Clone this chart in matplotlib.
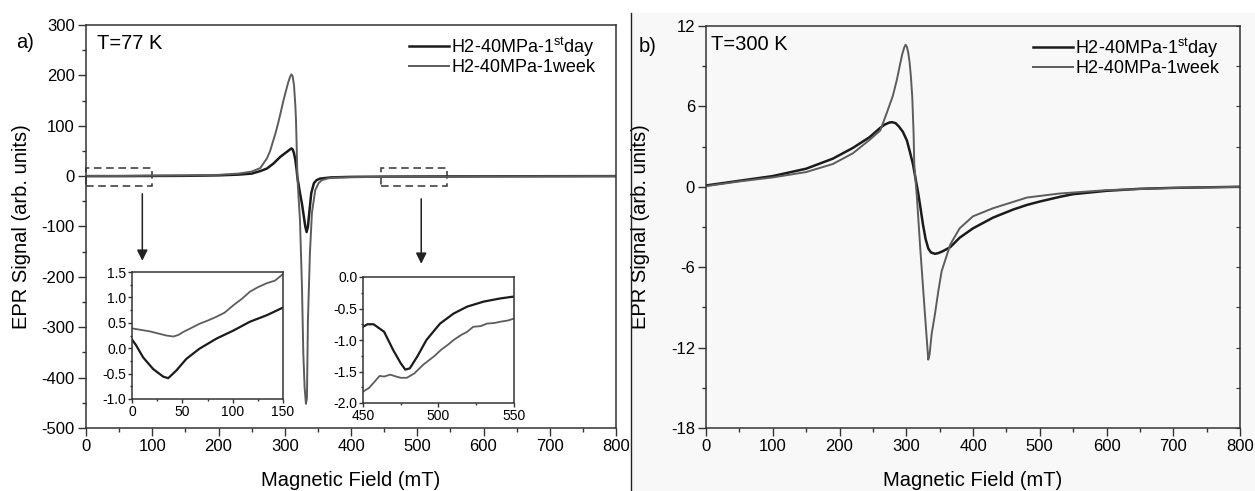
import matplotlib
matplotlib.use('Agg')
import matplotlib.pyplot as plt
from matplotlib.lines import Line2D
from matplotlib.patches import Rectangle
from matplotlib.ticker import MultipleLocator

plt.rcParams['font.family'] = ['Liberation Sans', 'DejaVu Sans']
plt.rcParams['mathtext.fontset'] = 'custom'
plt.rcParams['mathtext.rm'] = 'Liberation Sans'
plt.rcParams['axes.unicode_minus'] = False

# ---- data ----
labels = ['H2-40MPa-1$^{\\rm st}$day', 'H2-40MPa-1week']

# (a) T = 77 K
day_77_x = [0, 50, 100, 150, 200, 230, 250, 263, 273, 283, 293, 300, 305, 308, 310, 312, 314,
            316, 318, 319, 321, 323, 326, 328, 331, 333, 335, 337, 340, 344, 348, 353, 370,
            400, 450, 500, 600, 700, 800]
day_77_y = [0, 0, 0.3, 0.6, 1.5, 3, 5, 10, 15, 25, 38, 45, 50, 53, 55, 53, 45,
            32, 12, -2, -18, -34, -55, -73, -100, -111, -100, -73, -34, -14, -8, -5, -2.5,
            -1.5, -1, -0.8, -0.4, -0.2, 0]
week_77_x = [0, 50, 100, 150, 200, 230, 250, 263, 273, 278, 282, 286, 290, 294, 298, 302, 305,
             308, 310, 312, 314, 316, 317, 318, 319, 321, 323, 326, 328, 330, 332, 333.5, 335,
             338, 341, 346, 351, 356, 365, 373, 400, 450, 500, 600, 700, 800]
week_77_y = [0.4, 0.3, 1, 1.4, 2.5, 5, 9, 16, 35, 50, 68, 85, 105, 127, 150, 170, 185,
             197, 202, 198, 180, 140, 110, 60, 0, -45, -88, -220, -352, -420, -452, -440, -285,
             -153, -73, -28, -14, -8, -4.5, -3, -2, -1.5, -1.3, -0.6, -0.3, 0]

# insets of (a)
ins1_day_x = [0, 4, 11, 21, 31, 36, 44, 54, 67, 84, 101, 117, 134, 150]
ins1_day_y = [0.17, 0.06, -0.18, -0.41, -0.56, -0.59, -0.44, -0.21, -0.01, 0.19, 0.35, 0.52, 0.65, 0.80]
ins1_week_x = [0, 9, 18, 26, 34, 41, 46, 51, 59, 67, 76, 84, 92, 101, 109, 117, 125, 134, 142, 150]
ins1_week_y = [0.39, 0.36, 0.33, 0.29, 0.25, 0.23, 0.26, 0.32, 0.40, 0.48, 0.55, 0.62, 0.70, 0.85, 0.97,
               1.11, 1.20, 1.28, 1.33, 1.46]
ins2_day_x = [450, 453, 457, 464, 470, 475, 478, 481, 486, 492, 501, 510, 519, 530, 541, 550]
ins2_day_y = [-0.79, -0.75, -0.75, -0.87, -1.16, -1.37, -1.47, -1.45, -1.26, -1.00, -0.74, -0.58,
              -0.47, -0.39, -0.34, -0.31]
ins2_week_x = [450, 454, 457, 461, 464, 468, 472, 475, 479, 484, 490, 497, 502, 506, 510, 515,
               519, 523, 528, 532, 537, 541, 546, 550]
ins2_week_y = [-1.82, -1.76, -1.68, -1.57, -1.58, -1.55, -1.58, -1.60, -1.60, -1.53, -1.39, -1.26,
               -1.15, -1.08, -1.00, -0.92, -0.87, -0.79, -0.78, -0.74, -0.73, -0.71, -0.69, -0.66]

# (b) T = 300 K
day_300_x = [0, 50, 100, 150, 190, 220, 245, 261, 268, 275, 279, 284, 289, 295, 301, 305, 310,
             314, 318, 322, 325, 329, 333, 337, 343, 348, 355, 366, 380, 400, 430, 460, 481,
             500, 530, 550, 600, 650, 700, 800]
day_300_y = [0.1, 0.45, 0.8, 1.35, 2.1, 2.9, 3.7, 4.4, 4.65, 4.8, 4.82, 4.75, 4.5, 4.1, 3.45, 2.7, 1.7,
             0.6, -0.5, -1.8, -2.8, -3.9, -4.6, -4.9, -5.0, -4.95, -4.8, -4.5, -3.8, -3.1, -2.3, -1.7, -1.35,
             -1.1, -0.75, -0.55, -0.3, -0.15, -0.08, 0]
week_300_x = [0, 50, 100, 150, 190, 220, 245, 261, 270, 280, 286, 291, 294, 297, 299, 301, 303,
              305, 307, 309, 311, 312, 316, 321, 328, 333, 335, 338, 343, 348, 353, 366, 380,
              400, 430, 481, 530, 600, 700, 800]
week_300_y = [0.05, 0.4, 0.7, 1.1, 1.7, 2.5, 3.5, 4.2, 5.4, 6.8, 8.0, 9.2, 9.9, 10.4, 10.6, 10.45, 10.0,
              9.3, 8.2, 6.7, 4.0, 1.7, -0.8, -4.6, -9.5, -12.9, -12.5, -11.0, -9.5, -7.8, -6.3, -4.3, -3.1,
              -2.2, -1.6, -0.8, -0.5, -0.25, -0.08, 0]

c_day = '#1b1b1b'
c_week = '#5c5c5c'
spine_c = '#333333'

W, H = 1255, 491
fig = plt.figure(figsize=(W / 100, H / 100), dpi=100)


def px_axes(x0, y0, x1, y1):
    return fig.add_axes([x0 / W, 1 - y1 / H, (x1 - x0) / W, (y1 - y0) / H])


def style(ax, size, maj, mino):
    for s in ax.spines.values():
        s.set_color(spine_c)
        s.set_linewidth(1.1)
    ax.tick_params(which='major', direction='out', length=maj, width=1, color=spine_c,
                   labelsize=size, pad=2)
    ax.tick_params(which='minor', direction='out', length=mino, width=1, color=spine_c)


# ---------------- panel a ----------------
axa = px_axes(86, 25, 616, 428)
axa.plot(day_77_x, day_77_y, color=c_day, lw=1.8, label=labels[0])
axa.plot(week_77_x, week_77_y, color=c_week, lw=1.4, label=labels[1])
axa.set_xlim(0, 800)
axa.set_ylim(-500, 300)
axa.xaxis.set_major_locator(MultipleLocator(100))
axa.xaxis.set_minor_locator(MultipleLocator(50))
axa.yaxis.set_major_locator(MultipleLocator(100))
axa.yaxis.set_minor_locator(MultipleLocator(50))
style(axa, 12, 6, 3)
axa.set_xlabel('Magnetic Field (mT)', fontsize=14.5)
axa.set_ylabel('EPR Signal (arb. units)', fontsize=14.5)
axa.xaxis.set_label_coords(0.5, -0.107)
axa.yaxis.set_label_coords(-0.104, 0.5)
axa.legend(loc='upper right', frameon=False, fontsize=13, handlelength=2.2,
           handletextpad=0.15, labelspacing=0.0, borderaxespad=0.3,
           bbox_to_anchor=(0.985, 1.006))
axa.text(0.02, 0.955, 'T=77 K', transform=axa.transAxes, fontsize=14.5, va='center')

# dashed zoom boxes and arrows
for x0 in (0, 445):
    axa.add_patch(Rectangle((x0, -20), 100, 36, fill=False, ls=(0, (5, 3)),
                            lw=1.1, ec='#333333', clip_on=False))
for xa, y0, y1 in ((85, -35, -168), (506, -45, -174)):
    axa.annotate('', xy=(xa, y1), xytext=(xa, y0),
                 arrowprops=dict(arrowstyle='-|>', color='#222222', lw=1.1,
                                 mutation_scale=16, shrinkA=0, shrinkB=0))

# insets
ins1 = px_axes(132, 272, 283, 399)
ins1.plot(ins1_day_x, ins1_day_y, color=c_day, lw=1.6)
ins1.plot(ins1_week_x, ins1_week_y, color=c_week, lw=1.3)
ins1.set_xlim(0, 150)
ins1.set_ylim(-1.0, 1.5)
ins1.xaxis.set_major_locator(MultipleLocator(50))
ins1.xaxis.set_minor_locator(MultipleLocator(25))
ins1.yaxis.set_major_locator(MultipleLocator(0.5))
ins1.yaxis.set_minor_locator(MultipleLocator(0.25))
style(ins1, 10, 3, 1.5)
ins1.tick_params(pad=1)
ins1.yaxis.set_major_formatter(lambda v, p: f'{v:.1f}')

ins2 = px_axes(363, 277, 514, 403)
ins2.plot(ins2_day_x, ins2_day_y, color=c_day, lw=1.6)
ins2.plot(ins2_week_x, ins2_week_y, color=c_week, lw=1.3)
ins2.set_xlim(450, 550)
ins2.set_ylim(-2.0, 0.0)
ins2.xaxis.set_major_locator(MultipleLocator(50))
ins2.xaxis.set_minor_locator(MultipleLocator(25))
ins2.yaxis.set_major_locator(MultipleLocator(0.5))
ins2.yaxis.set_minor_locator(MultipleLocator(0.25))
style(ins2, 10, 3, 1.5)
ins2.tick_params(pad=1)
ins2.yaxis.set_major_formatter(lambda v, p: f'{v:.1f}')

# ---------------- panel b ----------------
fig.add_artist(Rectangle((631 / W, 0), 1 - 631 / W, 1 - 13 / H, transform=fig.transFigure,
                         color='#f8f8f8', zorder=-5))
axb = px_axes(706, 26, 1240, 428)
axb.set_facecolor('#f8f8f8')
axb.plot(day_300_x, day_300_y, color=c_day, lw=1.8, label=labels[0])
axb.plot(week_300_x, week_300_y, color=c_week, lw=1.4, label=labels[1])
axb.set_xlim(0, 800)
axb.set_ylim(-18, 12)
axb.xaxis.set_major_locator(MultipleLocator(100))
axb.xaxis.set_minor_locator(MultipleLocator(50))
axb.yaxis.set_major_locator(MultipleLocator(6))
axb.yaxis.set_minor_locator(MultipleLocator(3))
style(axb, 12, 6, 3)
sec = axb.secondary_yaxis('right')
sec.yaxis.set_major_locator(MultipleLocator(3))
sec.tick_params(direction='in', length=3, color=spine_c, labelright=False)
sec.spines['right'].set_visible(False)
axb.set_xlabel('Magnetic Field (mT)', fontsize=14.5)
axb.set_ylabel('EPR Signal (arb. units)', fontsize=14.5)
axb.xaxis.set_label_coords(0.5, -0.107)
axb.yaxis.set_label_coords(-0.105, 0.5)
axb.legend(loc='upper right', frameon=False, fontsize=13, handlelength=2.2,
           handletextpad=0.15, labelspacing=0.0, borderaxespad=0.3,
           bbox_to_anchor=(0.985, 1.006))
axb.text(0.01, 0.955, 'T=300 K', transform=axb.transAxes, fontsize=14.5, va='center')

# panel letters and separator
fig.text(25 / W, 1 - 43 / H, 'a)', fontsize=14.5, ha='center', va='center')
fig.text(648 / W, 1 - 46 / H, 'b)', fontsize=14.5, ha='center', va='center')
fig.add_artist(Line2D([631 / W, 631 / W], [0, 1 - 13 / H], transform=fig.transFigure,
                      color='#222222', lw=1.0))

fig.savefig('out.png', dpi=100, facecolor='white')
